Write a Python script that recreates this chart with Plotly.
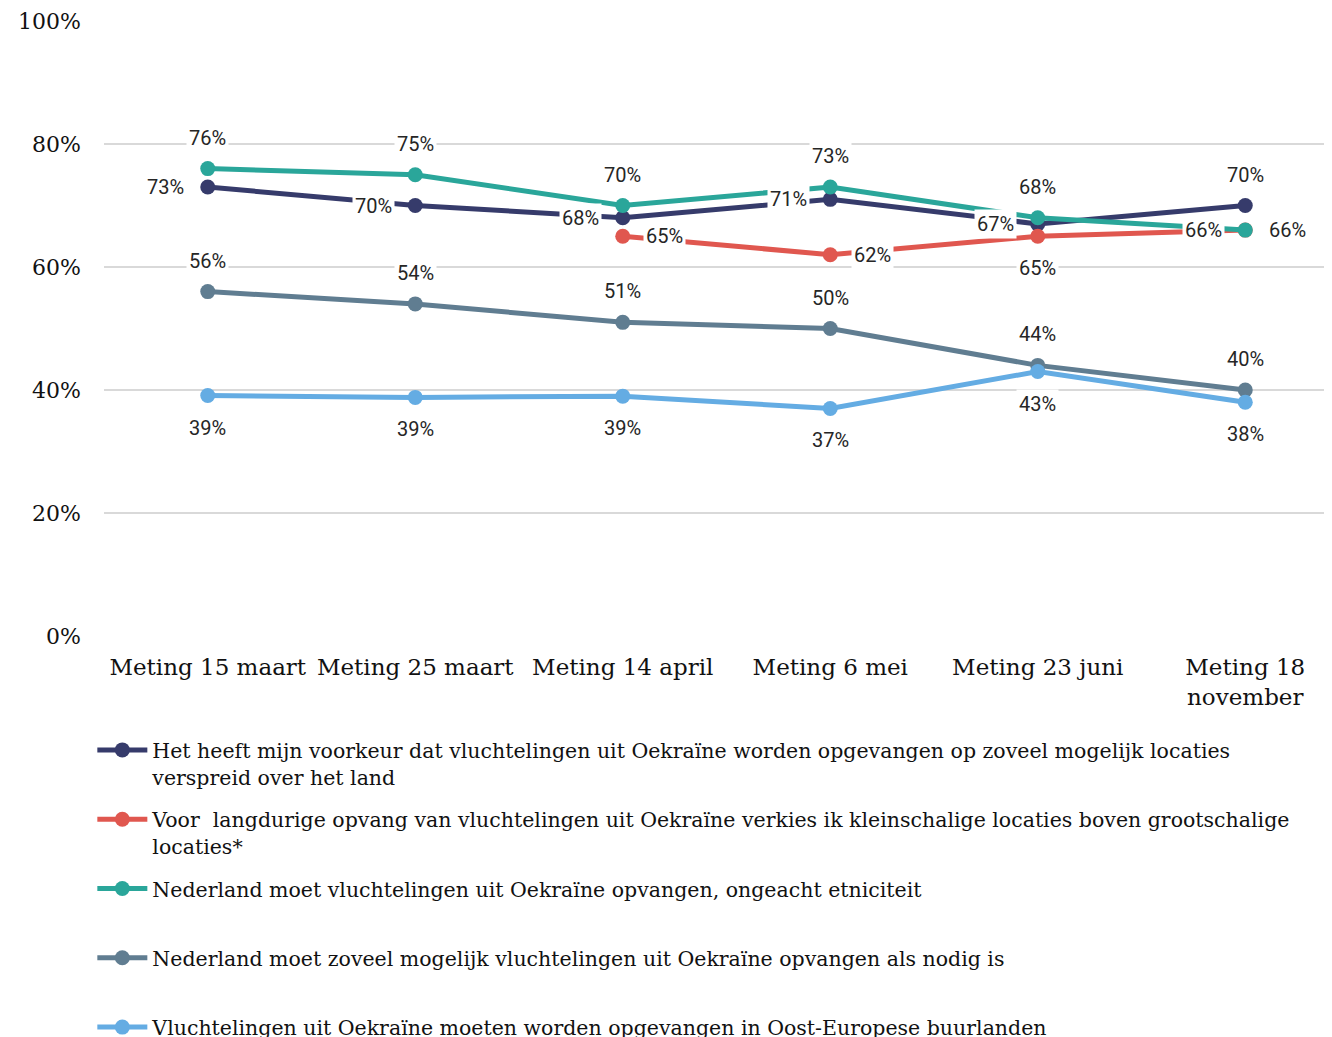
import plotly.graph_objects as go

categories = ["Meting 15 maart", "Meting 25 maart", "Meting 14 april",
              "Meting 6 mei", "Meting 23 juni", "Meting 18<br>november"]

s_voorkeur = [73, 70, 68, 71, 67, 70]
s_kleinschalig = [None, None, 65, 62, 65, 66]
s_ongeacht = [76, 75, 70, 73, 68, 66]
s_zoveel = [56, 54, 51, 50, 44, 40]
s_buurlanden = [39.1, 38.8, 39.0, 37, 43, 38]

names = [
    "Het heeft mijn voorkeur dat vluchtelingen uit Oekraïne worden opgevangen op zoveel mogelijk locaties<br>verspreid over het land",
    "Voor  langdurige opvang van vluchtelingen uit Oekraïne verkies ik kleinschalige locaties boven grootschalige<br>locaties*",
    "Nederland moet vluchtelingen uit Oekraïne opvangen, ongeacht etniciteit<br> ",
    "Nederland moet zoveel mogelijk vluchtelingen uit Oekraïne opvangen als nodig is<br> ",
    "Vluchtelingen uit Oekraïne moeten worden opgevangen in Oost-Europese buurlanden<br> ",
]
series = [s_voorkeur, s_kleinschalig, s_ongeacht, s_zoveel, s_buurlanden]
colors = ["#363b6b", "#e0574f", "#2aa69a", "#607d91", "#64ace3"]
label_pos = [
    ["l", "l", "l", "l", "l", "t"],
    ["r", "r", "r", "r", "b", "l"],
    ["t", "t", "t", "t", "t", "r"],
    ["t", "t", "t", "t", "t", "t"],
    ["b", "b", "b", "b", "b", "b"],
]

fig = go.Figure()
for i, (nm, vals, col) in enumerate(zip(names, series, colors)):
    fig.add_trace(go.Scatter(
        x=categories, y=[None if v is None else v / 100 for v in vals],
        mode="lines+markers", name=nm, legendgroup=str(i),
        line=dict(color=col, width=5), marker=dict(color=col, size=15),
        connectgaps=False, hoverinfo="skip",
    ))

shifts = {"l": (-42, 0), "r": (42, 0), "t": (0, 31), "b": (0, -32)}
annotations = []
for i, vals in enumerate(series):
    for j, v in enumerate(vals):
        if v is None:
            continue
        dx, dy = shifts[label_pos[i][j]]
        annotations.append(dict(
            x=categories[j], y=v / 100, xref="x", yref="y",
            text=f"{round(v)}%", showarrow=False, xshift=dx, yshift=dy,
            bgcolor="white", borderpad=2,
            font=dict(family="Roboto", size=20, color="#262626"),
        ))

fig.update_layout(
    width=1324, height=1029,
    margin=dict(l=96, r=0, t=13, b=401, autoexpand=False),
    paper_bgcolor="white", plot_bgcolor="white",
    annotations=annotations,
    showlegend=True,
    legend=dict(
        orientation="v", x=-0.0095, xanchor="left", y=-0.153, yanchor="top",
        valign="top", tracegroupgap=13, itemwidth=50,
        font=dict(family="DejaVu Serif", size=20.5, color="#111111"),
        bgcolor="rgba(0,0,0,0)",
    ),
    xaxis=dict(
        type="category", range=[-0.5, 5.418], showgrid=False, zeroline=False,
        showline=False, ticks="", tickangle=0, automargin=False,
        ticklabelstandoff=15,
        tickfont=dict(family="DejaVu Serif", size=23, color="#111111"),
    ),
    yaxis=dict(
        range=[0, 1], tickvals=[0, 0.2, 0.4, 0.6, 0.8, 1.0],
        ticktext=["0%", "20%", "40%", "60%", "80%", "100%"],
        showgrid=True, gridcolor="#d9d9d9", gridwidth=2,
        zeroline=False, showline=False, ticks="", ticklabelstandoff=22,
        automargin=False,
        tickfont=dict(family="DejaVu Serif", size=22, color="#111111"),
    ),
)

fig.write_html("out.html")
